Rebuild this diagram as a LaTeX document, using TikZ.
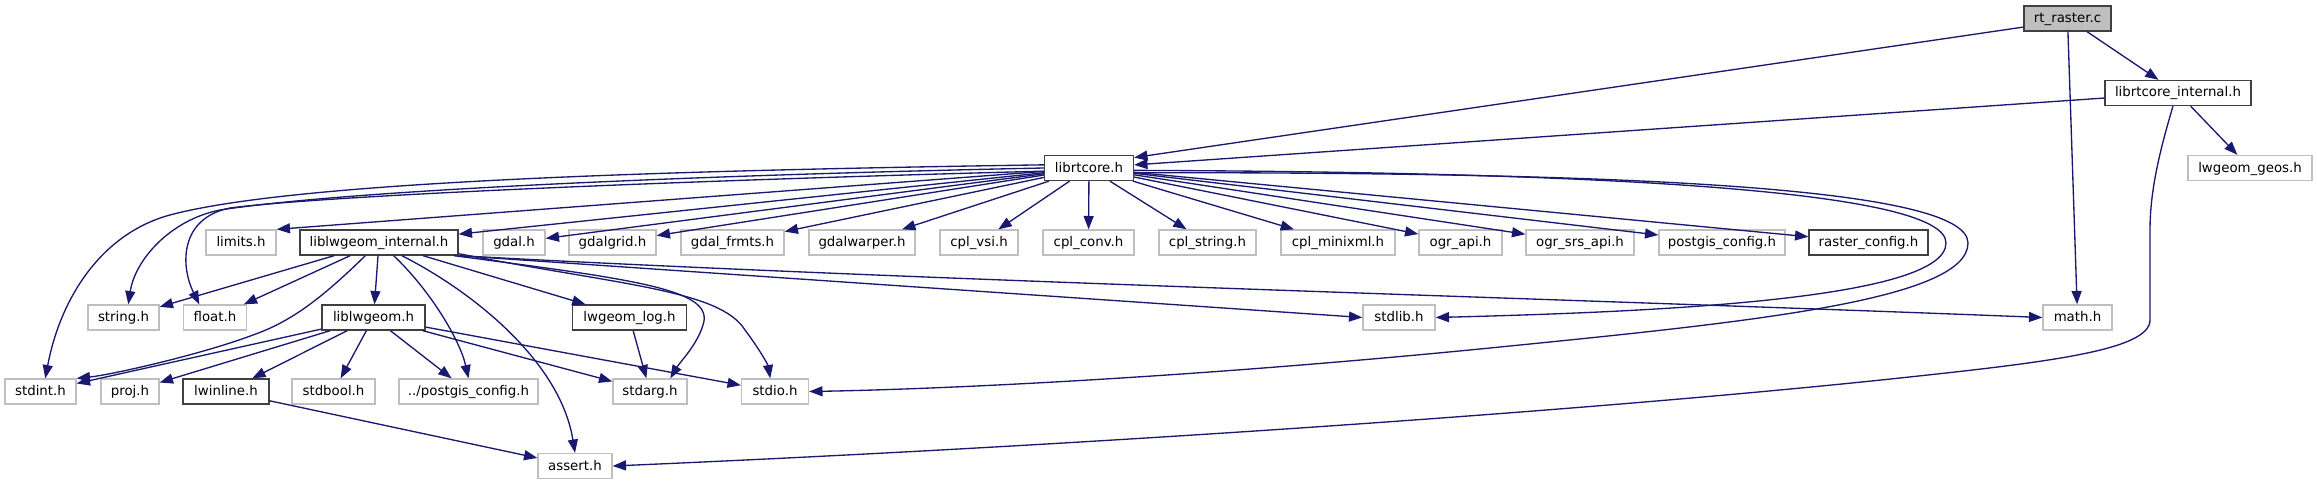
\documentclass[tikz,border=0pt]{standalone}
\usepackage{fontspec}
\setmainfont{DejaVu Sans}
\usetikzlibrary{arrows.meta}
\definecolor{edgeblue}{HTML}{191970}
\definecolor{nodegray}{HTML}{BFBFBF}
\definecolor{nodedark}{HTML}{404040}

\begin{document}
\begin{tikzpicture}[x=0.75pt,y=-0.75pt,
		hdr/.style={draw=nodegray,fill=white,line width=1pt,minimum height=18.75pt,inner sep=0pt,text height=7.5pt,text depth=1.5pt},
		doc/.style={hdr,draw=nodedark},
		root/.style={doc,fill=nodegray},
		dep/.style={edgeblue,line width=1pt,-{Triangle[length=10pt,width=7.5pt]}}]
		\useasboundingbox (0,0) rectangle (2317,485);

		% top of the graph
		\node[root,minimum width=87*0.75pt] (rtraster) at (2067.5,18.5) {rt\_raster.c};
		\node[doc,minimum width=146*0.75pt] (rtcoreint) at (2178,93) {librtcore\_internal.h};
		\node[doc,minimum width=89*0.75pt] (rtcore) at (1089,168) {librtcore.h};
		\node[hdr,minimum width=124*0.75pt] (geos) at (2250,168) {lwgeom\_geos.h};

		% rows of headers
		\foreach \n/\lbl/\x/\w/\s in {limits/limits.h/241/70/hdr, lwint/liblwgeom\_internal.h/379/158/doc,
			gdal/gdal.h/514/62/hdr, gdalgrid/gdalgrid.h/612.5/87/hdr, gdalfrmts/gdal\_frmts.h/732.5/103/hdr,
			gdalwarper/gdalwarper.h/862/106/hdr, cplvsi/cpl\_vsi.h/979/78/hdr, cplconv/cpl\_conv.h/1088.5/91/hdr,
			cplstring/cpl\_string.h/1207.5/97/hdr, cplminixml/cpl\_minixml.h/1338/114/hdr, ograpi/ogr\_api.h/1460.5/83/hdr,
			ogrsrs/ogr\_srs\_api.h/1580/108/hdr, pgconfig/postgis\_config.h/1722/126/hdr, rastercfg/raster\_config.h/1868.5/119/doc}
		\node[\s,minimum width=\w*0.75pt] (\n) at (\x,242.5) {\lbl};
		\foreach \n/\lbl/\x/\w/\s in {string/string.h/123.5/71/hdr, float/float.h/215/63/hdr, lwgeom/liblwgeom.h/373.5/103/doc,
			lwlog/lwgeom\_log.h/629.5/114/doc, stdlib/stdlib.h/1399/72/hdr, math/math.h/2077.5/69/hdr}
		\node[\s,minimum width=\w*0.75pt] (\n) at (\x,317.5) {\lbl};
		\foreach \n/\lbl/\x/\w/\s in {stdint/stdint.h/40.5/71/hdr, proj/proj.h/130/58/hdr, lwinline/lwinline.h/226/86/doc,
			stdbool/stdbool.h/333.5/83/hdr, stdarg/stdarg.h/650/74/hdr, stdio/stdio.h/775/67/hdr}
		\node[\s,minimum width=\w*0.75pt] (\n) at (\x,391.5) {\lbl};
		\node[hdr,minimum width=139*0.75pt] (pgcfg) at (468.5,391.5) {../postgis\_config.h};
		\node[hdr,minimum width=74*0.75pt] (assert) at (575,466) {assert.h};

		% rt_raster.c
		\draw[dep] (rtraster.191) -- (rtcore.13);
		\draw[dep] (rtraster) -- (math);
		\draw[dep] (rtraster) -- (rtcoreint);
		% librtcore_internal.h
		\draw[dep] (rtcoreint) -- (rtcore);
		\draw[dep] (rtcoreint) -- (geos);
		\draw[dep] (rtcoreint.249) .. controls (2160,150) and (2150,190) .. (2150,230) -- (2150,320)
			.. controls (2150,350) and (2050,362) .. (1900,378) .. controls (1600,410) and (1100,445) .. (assert.east);
		% librtcore.h
		\draw[dep] (rtcore) -- (limits.north east);
		\foreach \t in {lwint,gdal,gdalgrid,gdalfrmts,gdalwarper,cplvsi,cplconv,cplstring,cplminixml,ograpi,ogrsrs,pgconfig,rastercfg}
		\draw[dep] (rtcore) -- (\t);
		\draw[dep] (rtcore.176) .. controls (700,170) and (300,180) .. (170,215) .. controls (100,234) and (60,300) .. (stdint.70);
		\draw[dep] (rtcore.180) .. controls (700,175) and (350,190) .. (220,210) .. controls (170,220) and (135,260) .. (string.70);
		\draw[dep] (rtcore.184) .. controls (700,180) and (330,195) .. (230,208) .. controls (180,218) and (180,265) .. (float.140);
		\draw[dep] (rtcore.-3) .. controls (1600,172) and (1946,190) .. (1946,243) .. controls (1946,300) and (1650,312) .. (stdlib.east);
		\draw[dep] (rtcore.-6) .. controls (1600,172) and (1968,185) .. (1968,243) .. controls (1968,300) and (1750,322) .. (1500,347)
			.. controls (1200,377) and (950,389) .. (stdio.east);
		% liblwgeom_internal.h
		\foreach \t in {string,float,lwgeom,lwlog}
		\draw[dep] (lwint) -- (\t);
		\draw[dep] (lwint.224) .. controls (320,300) and (290,322) .. (253,335) .. controls (200,355) and (110,375) .. (stdint.north east);
		\draw[dep] (lwint.-42) .. controls (430,290) and (460,340) .. (pgcfg.north);
		\draw[dep] (lwint.-30) .. controls (470,290) and (560,360) .. (assert.north);
		\draw[dep] (lwint.-10) .. controls (640,280) and (715,290) .. (703,325) .. controls (697,345) and (680,362) .. (stdarg.33);
		\draw[dep] (lwint.-8) .. controls (620,285) and (720,290) .. (745,330) .. controls (760,350) and (768,365) .. (stdio.110);
		\draw[dep] (lwint.south east) -- (stdlib.west);
		\draw[dep] (lwint.south east) .. controls (900,280) and (1600,300) .. (math.west);
		% liblwgeom.h and the rest
		\foreach \t in {stdint,proj,lwinline,stdbool,pgcfg,stdarg,stdio}
		\draw[dep] (lwgeom) -- (\t);
		\draw[dep] (lwlog) -- (stdarg);
		\draw[dep] (lwinline) -- (assert);

	    \end{tikzpicture}
\end{document}
